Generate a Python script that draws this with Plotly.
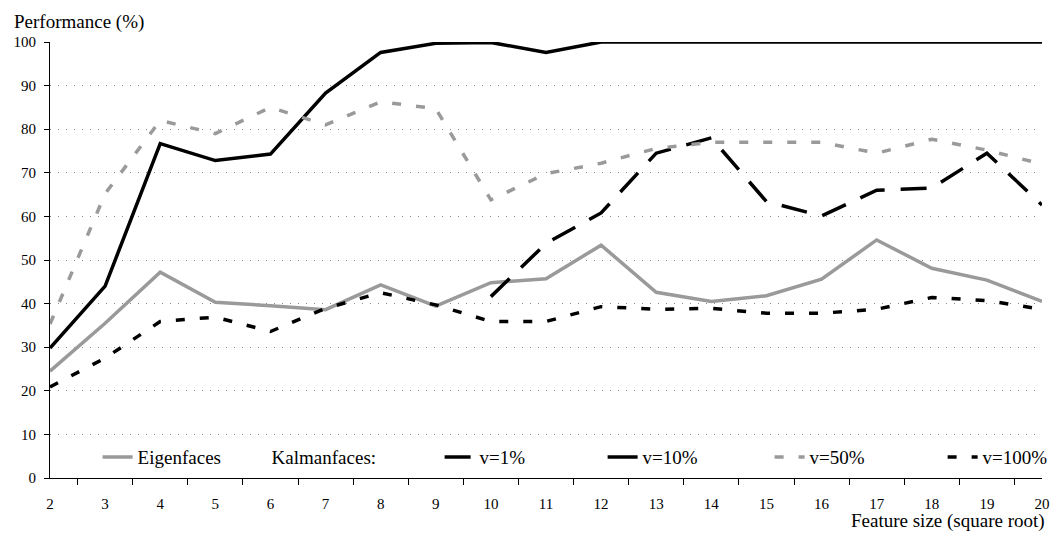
import plotly.graph_objects as go

categories = ["2", "3", "4", "5", "6", "7", "8", "9", "10", "11", "12",
              "13", "14", "15", "16", "17", "18", "19", "20"]

eigenfaces = [24.5, 35.5, 47.2, 40.3, 39.5, 38.6, 44.3, 39.4, 44.8, 45.7, 53.4,
              42.6, 40.5, 41.8, 45.6, 54.6, 48.1, 45.4, 40.5]
v1 = [None, None, None, None, None, None, None, None, 41.6, 53.8, 60.8,
      74.5, 78.0, 63.4, 60.1, 66.0, 66.5, 74.5, 62.6]
v10 = [29.8, 44.0, 76.7, 72.8, 74.3, 88.3, 97.6, 99.7, 99.9, 97.6, 100,
       100, 100, 100, 100, 100, 100, 100, 100]
v50 = [35.3, 65.2, 82.0, 79.0, 85.0, 81.0, 86.3, 84.7, 63.8, 69.8, 72.2,
       75.6, 77.0, 77.0, 77.0, 74.5, 77.7, 75.2, 72.0]
v100 = [20.9, 27.5, 35.9, 36.9, 33.6, 38.9, 42.5, 39.7, 35.9, 35.9, 39.3,
        38.7, 38.9, 37.8, 37.8, 38.7, 41.4, 40.7, 38.7]

GRAY = "#9a9a9a"
BLACK = "#000000"
LW = 3.5
FONT = "Times New Roman, Times, Tinos, Liberation Serif, DejaVu Serif, Noto Serif, serif"

fig = go.Figure()
fig.add_trace(go.Scatter(x=categories, y=eigenfaces, name="Eigenfaces", mode="lines",
                         line=dict(color=GRAY, width=LW), legendwidth=89))
fig.add_trace(go.Scatter(x=[None], y=[None], name="Kalmanfaces:", mode="lines",
                         line=dict(color="rgba(0,0,0,0)", width=0), legendwidth=163))
fig.add_trace(go.Scatter(x=categories, y=v1, name="v=1%", mode="lines",
                         line=dict(color=BLACK, width=LW, dash="26px,16px"), legendwidth=118))
fig.add_trace(go.Scatter(x=categories, y=v10, name="v=10%", mode="lines",
                         line=dict(color=BLACK, width=LW), legendwidth=122))
fig.add_trace(go.Scatter(x=categories, y=v50, name="v=50%", mode="lines",
                         line=dict(color=GRAY, width=LW, dash="9px,15px"), legendwidth=128))
fig.add_trace(go.Scatter(x=categories, y=v100, name="v=100%", mode="lines",
                         line=dict(color=BLACK, width=LW, dash="9px,15px"), legendwidth=62))

fig.update_layout(
    width=1058, height=536,
    margin=dict(l=50, r=8, t=42, b=58),
    paper_bgcolor="white", plot_bgcolor="white",
    font=dict(family=FONT, size=15, color="black"),
    showlegend=True,
    legend=dict(orientation="h", x=0.048, xanchor="left", y=0.048, yanchor="middle",
                bgcolor="rgba(0,0,0,0)", font=dict(family=FONT, size=19), itemwidth=30),
    xaxis=dict(type="category", tickson="boundaries", ticks="outside", ticklen=6,
               tickcolor="black", showline=True, linecolor="black", linewidth=1,
               showgrid=False, zeroline=False, tickfont=dict(family=FONT, size=15),
               ticklabelstandoff=12),
    yaxis=dict(range=[0, 100], dtick=10, ticks="outside", ticklen=5, tickcolor="black",
               showline=True, linecolor="black", linewidth=1, showgrid=True,
               gridcolor="#8a8a8a", gridwidth=1, griddash="1px,7px", zeroline=False,
               tickfont=dict(family=FONT, size=15), ticklabelstandoff=5),
    annotations=[
        dict(text="Performance (%)", xref="paper", yref="paper", x=-0.038, y=1.046,
             xanchor="left", yanchor="middle", showarrow=False,
             font=dict(family=FONT, size=19)),
        dict(text="Feature size (square root)", xref="paper", yref="paper", x=1.005,
             y=-0.099, xanchor="right", yanchor="middle", showarrow=False,
             font=dict(family=FONT, size=19)),
    ],
)

fig.write_html("out.html", config={"displayModeBar": False},
               post_script="document.body.style.margin='0';document.body.style.overflow='hidden';")
